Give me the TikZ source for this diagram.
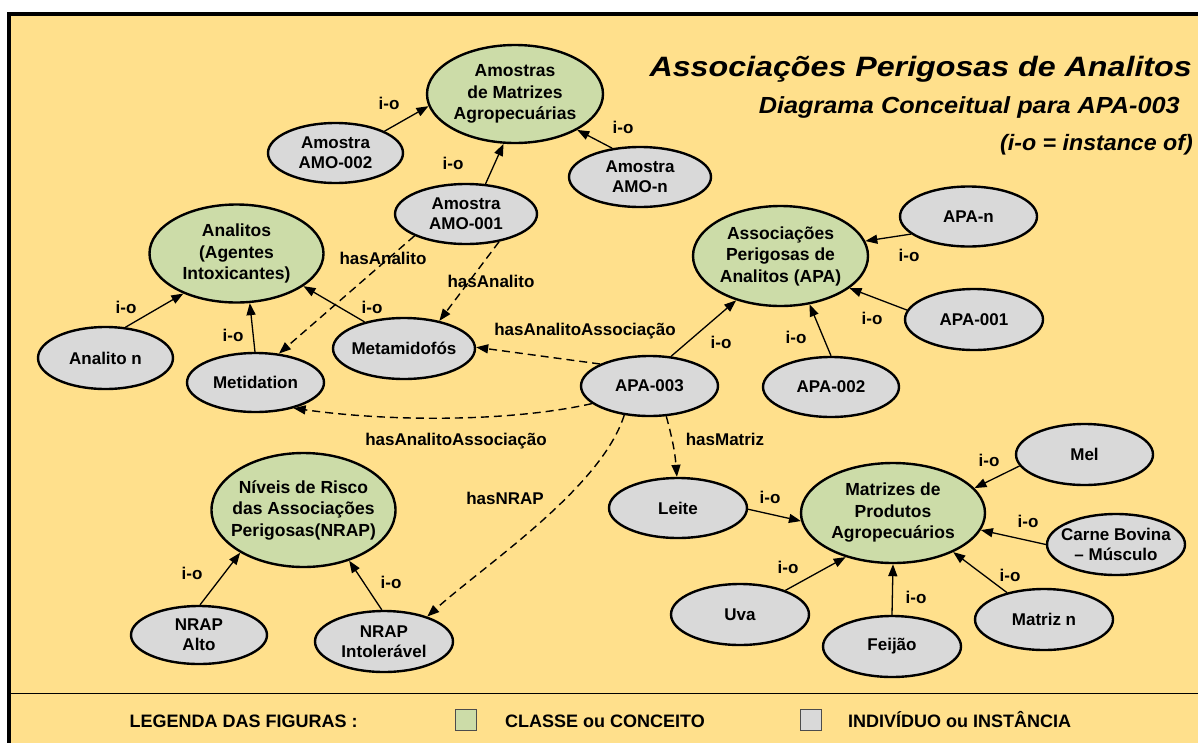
\documentclass[tikz,border=0pt]{standalone}
\usepackage{graphicx}
\usepackage{fontspec}
\setmainfont{Liberation Sans}
\usetikzlibrary{shapes.geometric,arrows.meta}

\definecolor{panelyellow}{RGB}{255,224,140}
\definecolor{classgreen}{RGB}{204,220,168}
\definecolor{instgray}{RGB}{217,217,217}

\tikzset{
  ovalshape/.style={ellipse, draw=black, line width=2.4pt, inner sep=0pt},
  cls/.style={ovalshape, fill=classgreen},
  ind/.style={ovalshape, fill=instgray},
  clstxt/.style={align=center, inner sep=0pt, font=\fontsize{17.5}{21.5}\selectfont\bfseries},
  indtxt/.style={align=center, inner sep=0pt, font=\fontsize{17}{20}\selectfont\bfseries},
  io/.style={-{Triangle[length=12pt,width=9pt]}, line width=1.3pt},
  rel/.style={-{Triangle[length=12pt,width=9pt]}, line width=1.4pt, dash pattern=on 8pt off 5pt},
  lbl/.style={inner sep=0pt, font=\fontsize{17}{20}\selectfont\bfseries},
  legtxt/.style={inner sep=0pt, font=\fontsize{18}{20}\selectfont\bfseries, anchor=base west},
  legbox/.style={draw=black!70, line width=1pt, minimum size=21pt, inner sep=0pt},
}

% oval with centred text: style, name, centre, width, height, text
\newcommand{\ovalitem}[6]{%
  \node[#1, minimum width=#4pt, minimum height=#5pt] (#2) at (#3) {};
  \node[#1txt] (#2-txt) at (#2.center) {#6};
}

\begin{document}
\begin{tikzpicture}[x=1pt, y=-1pt]
\useasboundingbox (0,0) rectangle (1198,742);
\clip (0,0) rectangle (1198,742);
\fill[white] (0,0) rectangle (1198,742);

% panel and legend separator
\draw[line width=3.5pt, fill=panelyellow] (9,13.8) rectangle (1230,770);
\draw[line width=1.5pt] (9,693.5) -- (1230,693.5);

% titles
\node[inner sep=0pt, anchor=base east, font=\fontsize{28}{30}\selectfont\bfseries\itshape]
  (title) at (1192,76) {\scalebox{1.15}[1]{Associações Perigosas de Analitos}};
\node[inner sep=0pt, anchor=base east, font=\fontsize{23.3}{25}\selectfont\bfseries\itshape]
  (subtitle) at (1180,113) {\scalebox{1.085}[1]{Diagrama Conceitual para APA-003}};
\node[inner sep=0pt, anchor=base east, font=\fontsize{22.3}{24}\selectfont\bfseries\itshape]
  (note) at (1193,150) {\scalebox{1.04}[1]{(i-o = instance of)}};

% classes
\ovalitem{cls}{amostras}{515,94}{176}{98}{Amostras\\de Matrizes\\Agropecuárias}
\ovalitem{cls}{analitos}{236.5,253.5}{174}{98}{Analitos\\(Agentes\\Intoxicantes)}
\ovalitem{cls}{apa}{780.5,256}{175}{100}{Associações\\Perigosas de\\Analitos (APA)}
\ovalitem{cls}{nrap}{303.5,510}{184}{114}{Níveis de Risco\\das Associações\\Perigosas(NRAP)}
\ovalitem{cls}{matrizes}{893,513}{184}{100}{Matrizes de\\Produtos\\Agropecuários}

% instances
\ovalitem{ind}{amo002}{335.5,153}{135}{60}{Amostra\\AMO-002}
\ovalitem{ind}{amon}{640,177}{142}{60}{Amostra\\AMO-n}
\ovalitem{ind}{amo001}{466,214}{142}{60}{Amostra\\AMO-001}
\ovalitem{ind}{apan}{968.5,216.5}{137}{60}{APA-n}
\ovalitem{ind}{apa001}{974,319.5}{138}{61}{APA-001}
\ovalitem{ind}{apa002}{831,387}{136}{60}{APA-002}
\ovalitem{ind}{apa003}{649.5,386}{137}{60}{APA-003}
\ovalitem{ind}{metam}{404,348.5}{142}{61}{Metamidofós}
\ovalitem{ind}{metid}{255.5,382.5}{137}{59}{Metidation}
\ovalitem{ind}{analiton}{105.5,358}{135}{62}{Analito n}
\ovalitem{ind}{mel}{1084.5,454.5}{137}{61}{Mel}
\ovalitem{ind}{leite}{678,508}{138}{60}{Leite}
\ovalitem{ind}{carne}{1116,544.5}{138}{61}{Carne Bovina\\– Músculo}
\ovalitem{ind}{uva}{740,614.5}{138}{61}{Uva}
\ovalitem{ind}{feijao}{892,646.5}{138}{61}{Feijão}
\ovalitem{ind}{matrizn}{1044,619.5}{138}{61}{Matriz n}
\ovalitem{ind}{nalto}{199,635}{136}{58}{NRAP\\Alto}
\ovalitem{ind}{nintol}{384,641.5}{138}{61}{NRAP\\Intolerável}

% instance-of links
\draw[io] (amo002.24) -- (amostras.188);
\draw[io] (amo001.57) -- (amostras.257);
\draw[io] (amon.134) -- (amostras.330);
\draw[io] (analiton.57) -- (analitos.217);
\draw[io] (metid.91) -- (analitos.285);
\draw[io] (metam.146) -- (analitos.334);
\draw[io] (apa003.54) -- (apa.225);
\draw[io] (apan.197) -- (apa.10);
\draw[io] (apa001.172) -- (apa.335);
\draw[io] (apa002.90) -- (apa.301);
\draw[io] (mel.190) -- (matrizes.17);
\draw[io] (leite.359) -- (matrizes.185);
\draw[io] (uva.28) -- (matrizes.223);
\draw[io] (feijao.90) -- (matrizes.270);
\draw[io] (matrizn.144) -- (matrizes.327);
\draw[io] (carne.180) -- (matrizes.349);
\draw[io] (nalto.88) -- (nrap.214);
\draw[io] (nintol.94) -- (nrap.312);

\node[lbl] (io1) at (389,103) {i-o};
\node[lbl] (io2) at (453,163) {i-o};
\node[lbl] (io3) at (623,127) {i-o};
\node[lbl] (io4) at (126,307) {i-o};
\node[lbl] (io5) at (233,335) {i-o};
\node[lbl] (io6) at (372,307) {i-o};
\node[lbl] (io7) at (721,342) {i-o};
\node[lbl] (io8) at (909,255) {i-o};
\node[lbl] (io9) at (872,318) {i-o};
\node[lbl] (io10) at (796,337) {i-o};
\node[lbl] (io11) at (989,460) {i-o};
\node[lbl] (io12) at (770,497) {i-o};
\node[lbl] (io13) at (788,567) {i-o};
\node[lbl] (io14) at (916,597) {i-o};
\node[lbl] (io15) at (1010,575) {i-o};
\node[lbl] (io16) at (1028,521) {i-o};
\node[lbl] (io17) at (192,573) {i-o};
\node[lbl] (io18) at (391,582) {i-o};

% property links
\draw[rel] (amo001.203) -- (metid.51);
\draw[rel] (amo001.320) -- (metam.38);
\draw[rel] (apa003.156) -- (metam.1);
\draw[rel] (apa003.197) .. controls +(-80,18) and +(100,14) .. (metid.326);
\draw[rel] (apa003.299) .. controls +(6,22) and +(-2,-25) .. (leite.92);
\draw[rel] (apa003.229) .. controls +(-23,73) and +(58,-52) .. (nintol.30);

\node[lbl] (ha1) at (383,258) {hasAnalito};
\node[lbl] (ha2) at (491,281) {hasAnalito};
\node[lbl] (haa1) at (585,331) {hasAnalitoAssociação};
\node[lbl] (haa2) at (456,441) {hasAnalitoAssociação};
\node[lbl] (hm) at (725,439) {hasMatriz};
\node[lbl] (hn) at (505,498) {hasNRAP};

% legend
\node[legtxt] (legtitle) at (129.5,727) {LEGENDA DAS FIGURAS :};
\node[legbox, fill=classgreen] (legcls) at (465.5,719.5) {};
\node[legtxt] (legclstxt) at (505,727) {CLASSE ou CONCEITO};
\node[legbox, fill=instgray] (legind) at (811,720) {};
\node[legtxt] (legindtxt) at (848,727) {INDIVÍDUO ou INSTÂNCIA};
\end{tikzpicture}
\end{document}
